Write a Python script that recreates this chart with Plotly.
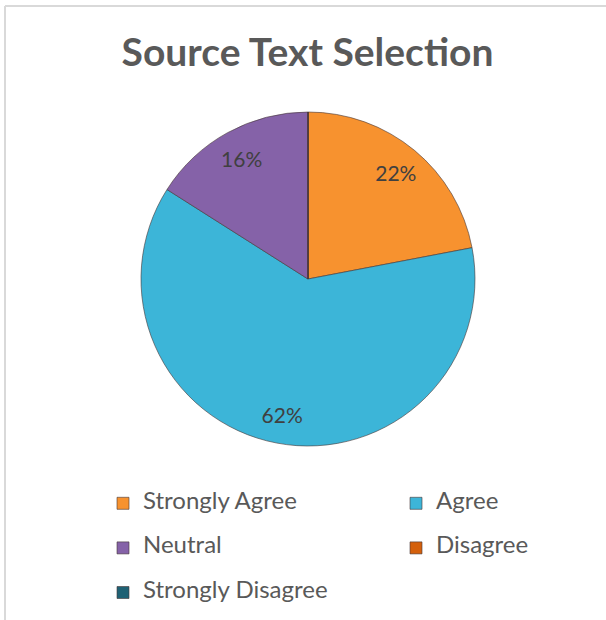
import plotly.graph_objects as go

labels = ["Strongly Agree", "Agree", "Neutral", "Disagree", "Strongly Disagree"]
values = [22, 62, 16, 0, 0]
colors = ["#F7922F", "#3CB5D8", "#8562A8", "#D4600C", "#1F6174"]
title_text = "Source Text Selection"

W, H = 606, 620
pie_domain = dict(x=[141 / W, 475 / W], y=[1 - 446 / H, 1 - 112 / H])
texts = ["%{percent:.0%}" if v > 0 else "" for v in values]
legend_names = ["<span style='font-size:24px;baseline-shift:7px'>" + l + "</span>" for l in labels]

fig = go.Figure()
# main pie (colours + legend)
fig.add_trace(go.Pie(
    labels=legend_names,
    values=values,
    sort=False,
    direction="clockwise",
    rotation=0,
    marker=dict(colors=colors, line=dict(color="rgba(70,55,55,0.6)", width=1)),
    textinfo="none",
    domain=pie_domain,
    hovertemplate="%{label}: %{percent:.0%}<extra></extra>",
))
# transparent ring overlay that carries the percentage labels near the rim
fig.add_trace(go.Pie(
    labels=legend_names,
    values=values,
    sort=False,
    direction="clockwise",
    rotation=0,
    hole=0.65,
    showlegend=False,
    marker=dict(colors=["rgba(0,0,0,0)"] * len(values), line=dict(width=0)),
    texttemplate=texts,
    textposition="inside",
    insidetextorientation="horizontal",
    textfont=dict(family="Lato", size=21, color="#404040"),
    domain=pie_domain,
    hoverinfo="skip",
))

fig.update_layout(
    width=W, height=H,
    margin=dict(l=0, r=0, t=0, b=0, autoexpand=False),
    paper_bgcolor="white",
    title=dict(text="<b>" + title_text + "</b>", x=307.5 / W, xanchor="center",
               y=1 - 52.5 / H, yanchor="middle",
               font=dict(family="Lato", size=39, color="#595959")),
    showlegend=True,
    legend=dict(orientation="h", x=103 / W, xanchor="left", y=1 - 476 / H, yanchor="top",
                entrywidth=248, entrywidthmode="pixels",
                font=dict(family="Lato", size=32, color="#595959"),
                itemwidth=30, traceorder="normal"),
    shapes=[
        dict(type="line", xref="paper", yref="paper", x0=5 / W, x1=1, y0=1 - 6 / H, y1=1 - 6 / H,
             line=dict(color="#D9D9D9", width=2)),
        dict(type="line", xref="paper", yref="paper", x0=5 / W, x1=5 / W, y0=0, y1=1 - 6 / H,
             line=dict(color="#D9D9D9", width=2)),
    ],
)

fig.write_html("out.html", config={"displayModeBar": False},
               post_script="document.body.style.margin='0px';")
